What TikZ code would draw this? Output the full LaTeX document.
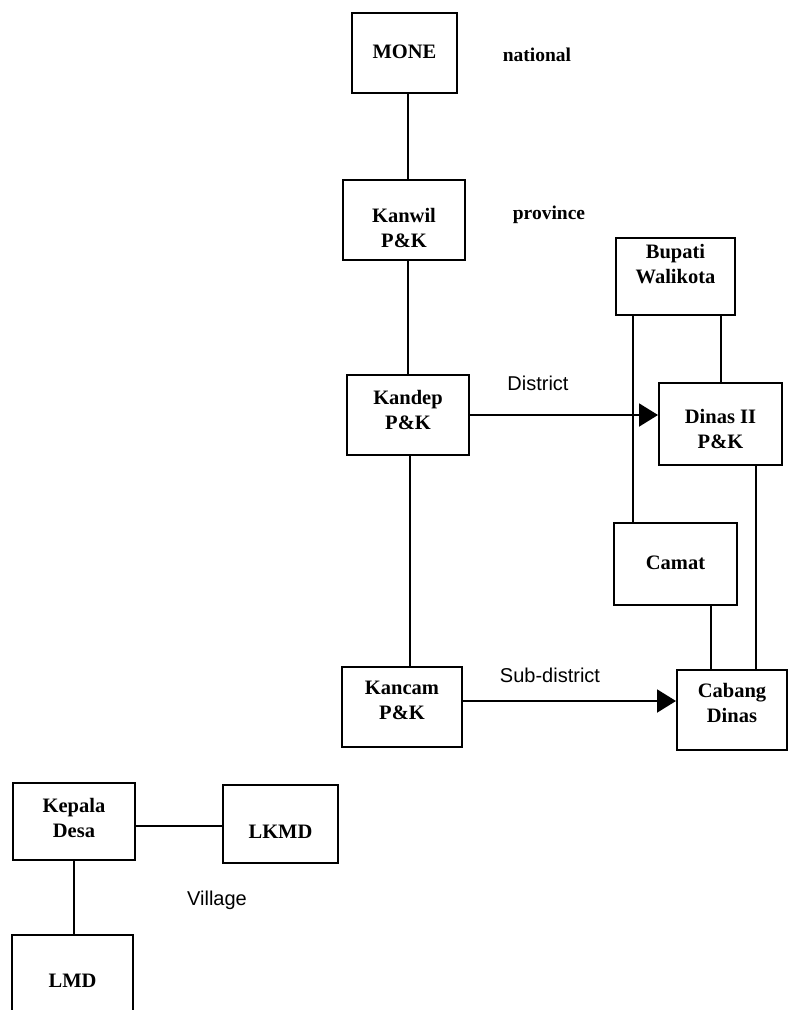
\documentclass[tikz,border=0pt]{standalone}
\usepackage{fontspec}
\setmainfont{Liberation Serif}
\setsansfont{Liberation Sans}
\usetikzlibrary{arrows.meta}
\newcommand{\boxtext}[2]{\raisebox{#1pt}[\height][\depth]{\begin{tabular}{@{}c@{}}#2\end{tabular}}}
\begin{document}
\begin{tikzpicture}[x=1pt,y=-1pt,
  box/.style={draw, line width=2pt, inner sep=0pt, font=\fontsize{20.5}{25}\selectfont\bfseries},
  conn/.style={line width=2pt},
  arr/.style={line width=2pt, -{Triangle[length=19pt,width=23pt]}},
  lvlserif/.style={font=\fontsize{19.5}{23}\selectfont\bfseries},
  lvlsans/.style={font=\fontsize{20}{23}\selectfont\sffamily}]
\useasboundingbox (0,0) rectangle (789,1010);
\fill[white] (0,0) rectangle (789,1010);

% boxes
\node[box, minimum width=105pt, minimum height=80pt] (mone) at (404.5,53) {\boxtext{0}{MONE}};
\node[box, minimum width=122pt, minimum height=80pt] (kanwil) at (404,220) {\boxtext{-10}{Kanwil\\P\&K}};
\node[box, minimum width=119pt, minimum height=77pt] (bupati) at (675.5,276.5) {\boxtext{11}{Bupati\\Walikota}};
\node[box, minimum width=122pt, minimum height=80pt] (kandep) at (408,415) {\boxtext{3}{Kandep\\P\&K}};
\node[box, minimum width=123pt, minimum height=82pt] (dinas) at (720.5,424) {\boxtext{-7}{Dinas II\\P\&K}};
\node[box, minimum width=123pt, minimum height=82pt] (camat) at (675.5,564) {\boxtext{0}{Camat}};
\node[box, minimum width=120pt, minimum height=80pt] (kancam) at (402,707) {\boxtext{5}{Kancam\\P\&K}};
\node[box, minimum width=110pt, minimum height=80pt] (cabang) at (732,710) {\boxtext{5}{Cabang\\Dinas}};
\node[box, minimum width=122pt, minimum height=77pt] (kepala) at (74,821.5) {\boxtext{2}{Kepala\\Desa}};
\node[box, minimum width=115pt, minimum height=78pt] (lkmd) at (280.5,824) {\boxtext{-9}{LKMD}};
\node[box, minimum width=121pt, minimum height=100pt] (lmd) at (72.5,985) {\boxtext{3}{LMD}};

% level labels
\node[lvlserif] (national) at (537,55) {national};
\node[lvlserif] (province) at (549,215) {province};
\node[lvlsans] (district) at (538,383) {District};
\node[lvlsans] (subdistrict) at (550,675) {Sub-district};
\node[lvlsans] (village) at (217,900) {Village};

% connectors
\draw[conn] ([xshift=3.5pt]mone.south) -- ([xshift=3.5pt]mone.south |- kanwil.north);
\draw[conn] (kandep.north |- kanwil.south) -- (kandep.north);
\draw[conn] ([xshift=2pt]kandep.south) -- ([xshift=2pt]kandep.south |- kancam.north);
\draw[conn] (dinas.north |- bupati.south) -- (dinas.north);
\draw[conn] ([xshift=18pt]bupati.south west) -- ([xshift=18pt]bupati.south west |- camat.north);
\draw[conn] ([xshift=-27pt]camat.south east) -- ([xshift=-27pt]camat.south east |- cabang.north);
\draw[conn] ([xshift=-27pt]dinas.south east) -- ([xshift=-27pt]dinas.south east |- cabang.north);
\draw[arr] (kandep.east) -- (kandep.east -| dinas.west);
\draw[arr] ([yshift=6pt]kancam.east) -- ([yshift=6pt]kancam.east -| cabang.west);
\draw[conn] ([yshift=-4pt]kepala.east) -- ([yshift=-4pt]kepala.east -| lkmd.west);
\draw[conn] (kepala.south) -- (kepala.south |- lmd.north);
\end{tikzpicture}
\end{document}
